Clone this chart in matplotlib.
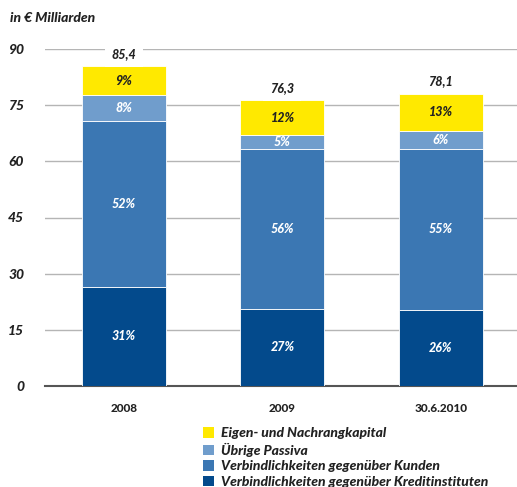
import numpy as np
import matplotlib.pyplot as plt
from matplotlib.patches import Patch

plt.rcParams['font.family'] = ['Lato', 'DejaVu Sans']
BOLD = 900

categories = ["2008", "2009", "30.6.2010"]
totals = [85.4, 76.3, 78.1]
# segment values in € Mrd, bottom to top
kredit = [26.5, 20.6, 20.3]
kunden = [44.4, 42.7, 43.0]
uebrige = [6.8, 3.8, 4.7]
eigen = [7.7, 9.2, 10.1]
pct_kredit = ["31%", "27%", "26%"]
pct_kunden = ["52%", "56%", "55%"]
pct_uebrige = ["8%", "5%", "6%"]
pct_eigen = ["9%", "12%", "13%"]
legend_labels = ["Eigen- und Nachrangkapital", "Übrige Passiva",
                 "Verbindlichkeiten gegenüber Kunden",
                 "Verbindlichkeiten gegenüber Kreditinstituten"]

colors = ["#034a8c", "#3b77b3", "#709dcc", "#ffe900"]
text_colors = ["white", "white", "white", "#222222"]

fig = plt.figure(figsize=(5.17, 4.87), dpi=100)
ax = fig.add_axes([45 / 517, 101 / 487, 472 / 517, 337 / 487])

x = np.arange(len(categories))
w = 0.53
series = [kredit, kunden, uebrige, eigen]
labels = [pct_kredit, pct_kunden, pct_uebrige, pct_eigen]
bottom = np.zeros(len(categories))
for vals, col, lab, tc in zip(series, colors, labels, text_colors):
    vals = np.array(vals)
    ax.bar(x, vals, w, bottom=bottom, color=col, edgecolor="white",
           linewidth=0.6, zorder=3)
    for xi, b, v, t in zip(x, bottom, vals, lab):
        ax.text(xi, b + v / 2, t, ha="center", va="center", color=tc,
                fontsize=9, fontweight=BOLD, fontstyle="italic", zorder=4)
    bottom = bottom + vals

for xi, t in zip(x, totals):
    ax.text(xi, t + 3.3, f"{t:.1f}".replace(".", ","), ha="center",
            va="center", fontsize=9, fontweight=BOLD, fontstyle="italic",
            color="#222222", zorder=4,
            bbox=dict(facecolor="white", edgecolor="none", pad=5))

ax.set_xlim(-0.498, 2.48)
ax.set_ylim(0, 90)
ax.set_yticks([0, 15, 30, 45, 60, 75, 90])
ax.set_xticks(x)
ax.set_xticklabels(categories, fontsize=8.5, fontweight=BOLD, color="#222222")
for t in ax.get_yticklabels():
    t.set_fontsize(10)
    t.set_fontweight(BOLD)
    t.set_fontstyle("italic")
    t.set_color("#222222")
ax.tick_params(axis="both", length=0)
ax.tick_params(axis="y", pad=15)
ax.tick_params(axis="x", pad=12)
ax.grid(axis="y", color="#b5b5b5", linewidth=1.0, zorder=0)
for s in ["top", "right", "left"]:
    ax.spines[s].set_visible(False)
ax.spines["bottom"].set_color("#555555")
ax.spines["bottom"].set_linewidth(1.5)

fig.text(10 / 517, 1 - 18 / 487, "in € Milliarden", fontsize=10,
         fontweight=BOLD, fontstyle="italic", color="#222222", va="center")

handles = [Patch(facecolor=c) for c in colors[::-1]]
leg = fig.legend(handles, legend_labels, loc="upper left",
                 bbox_to_anchor=(196 / 517, 1 - 420 / 487), frameon=False,
                 handlelength=0.8, handleheight=0.8, handletextpad=0.5,
                 labelspacing=0.25, borderpad=0,
                 prop=dict(size=10, weight=BOLD, style="italic"))
for t in leg.get_texts():
    t.set_color("#222222")

fig.savefig("out.png", dpi=100)
